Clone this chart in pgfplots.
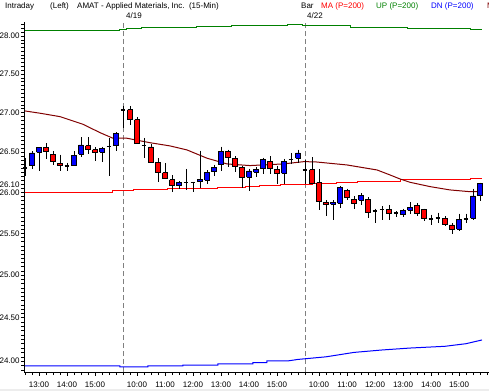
\documentclass[border=0pt]{standalone}
\usepackage{pgfplots}
\pgfplotsset{compat=1.18}
\usepackage{fontspec}
\setmainfont{Liberation Sans}
\definecolor{upblue}{RGB}{0,0,255}
\definecolor{dnred}{RGB}{255,0,0}
\definecolor{darkred}{RGB}{128,0,0}
\definecolor{upgreen}{RGB}{0,128,0}
\begin{document}
\begin{tikzpicture}[x=1bp,y=1bp,font=\fontsize{8bp}{9.6bp}\selectfont]
\begin{axis}[scale only axis,
  width=464.8bp, height=350bp,
  y coord trafo/.code={\pgfmathparse{1000*ln(#1)}},
  y coord inv trafo/.code={\pgfmathparse{exp(#1/1000)}},
  xmin=-0.1, xmax=66.3, ymin=23.878, ymax=28.186,
  clip=false, unbounded coords=jump,
  axis x line*=bottom, axis y line*=left,
  axis line style={-, line width=0.8bp, black},
  tick align=outside, major tick length=3.5bp, minor tick length=3bp,
  every tick/.style={black, line width=0.7bp},
  ticklabel style={font=\fontsize{8bp}{9.6bp}\selectfont},
  ytick={24,24.5,25,25.5,26,26.1,26.5,27,27.5,28},
  yticklabels={24.00,24.50,25.00,25.50,26.00,26.10,26.50,27.00,27.50,28.00},
  minor ytick={23.9,23.95,24,24.05,24.1,24.15,24.2,24.25,24.3,24.35,24.4,24.45,24.5,24.55,24.6,24.65,24.7,24.75,24.8,24.85,24.9,24.95,25,25.05,25.1,25.15,25.2,25.25,25.3,25.35,25.4,25.45,25.5,25.55,25.6,25.65,25.7,25.75,25.8,25.85,25.9,25.95,26,26.05,26.1,26.15,26.2,26.25,26.3,26.35,26.4,26.45,26.5,26.55,26.6,26.65,26.7,26.75,26.8,26.85,26.9,26.95,27,27.05,27.1,27.15,27.2,27.25,27.3,27.35,27.4,27.45,27.5,27.55,27.6,27.65,27.7,27.75,27.8,27.85,27.9,27.95,28,28.05,28.1,28.15},
  yticklabel style={inner sep=1bp},
  xtick={2,6,10,16,20,24,28,32,36,42,46,50,54,58,62},
  xticklabels={13:00,14:00,15:00,10:00,11:00,12:00,13:00,14:00,15:00,10:00,11:00,12:00,13:00,14:00,15:00},
  minor xtick={0,1,...,66},
  xticklabel style={inner sep=0pt, yshift=-6bp},
]
\coordinate (SW) at (rel axis cs:0,0);
% session separators
\addplot[gray, line width=0.9bp, dash pattern=on 5bp off 3bp] coordinates {(14,23.878) (14,28.186)};
\addplot[gray, line width=0.9bp, dash pattern=on 5bp off 3bp] coordinates {(40,23.878) (40,28.186)};
% UP line (green)
\addplot[upgreen, line width=1bp] coordinates {(0,28.066) (2.57,28.066) (2.57,28.076) (3.86,28.076) (3.86,28.066) (13.57,28.066) (13.57,28.089) (14.57,28.089) (14.57,28.102) (16.71,28.102) (16.71,28.116) (24.57,28.116) (24.57,28.129) (29.57,28.129) (29.57,28.142) (37.57,28.142) (37.57,28.156) (39.71,28.156) (39.71,28.146) (44.57,28.146) (44.57,28.133) (46.43,28.133) (46.43,28.116) (54.57,28.116) (54.57,28.097) (63.57,28.097) (63.57,28.089) (65.29,28.089)};
% DN line (blue)
\addplot[upblue, line width=1bp] coordinates {(0,23.946) (13.57,23.946) (13.57,23.935) (17.57,23.935) (17.57,23.946) (22.57,23.946) (22.57,23.957) (27.57,23.957) (27.57,23.969) (32.57,23.969) (32.57,23.984) (34.57,23.984) (34.57,24.003) (37.57,24.003) (39,24.02) (43,24.05) (47,24.10) (51,24.128) (55,24.15) (60,24.17) (63,24.20) (65.29,24.243)};
% MA line (red)
\addplot[dnred, line width=1bp] coordinates {(0,25.996) (12.57,25.996) (12.57,26.021) (15.43,26.021) (15.43,26.033) (20.29,26.033) (20.29,26.041) (27.57,26.041) (27.57,26.054) (31.57,26.054) (31.57,26.070) (33.57,26.070) (33.57,26.082) (36.57,26.082) (36.57,26.091) (41.14,26.091) (41.14,26.112) (44.57,26.112) (44.57,26.124) (47.57,26.124) (47.57,26.137) (53.57,26.137) (53.57,26.153) (63.57,26.153) (63.57,26.165) (65.29,26.165)};
% second MA (dark red)
\addplot[darkred, line width=1bp] coordinates {(0,27.022) (2.14,26.993) (5,26.949) (8.29,26.852) (10.71,26.746) (12.57,26.675) (14.57,26.675) (17.86,26.619) (20.71,26.578) (23.14,26.527) (26,26.423) (28.86,26.352) (32.14,26.331) (36.86,26.352) (39.86,26.381) (41.57,26.377) (46,26.339) (50.29,26.277) (52.14,26.215) (53.57,26.165) (55,26.124) (57.86,26.070) (60.71,26.029) (63.57,26.008) (65.29,26.008)};
% wicks
\addplot[black, line width=1bp] table[row sep=\\] {x y\\
0 26.43\\0 26.20\\nan 26\\
1 26.51\\1 26.29\\nan 26\\
2 26.56\\2 26.26\\nan 26\\
3 26.61\\3 26.415\\nan 26\\
4 26.51\\4 26.34\\nan 26\\
5 26.47\\5 26.26\\nan 26\\
6 26.37\\6 26.26\\nan 26\\
7 26.51\\7 26.33\\nan 26\\
8 26.69\\8 26.44\\nan 26\\
9 26.69\\9 26.48\\nan 26\\
10 26.56\\10 26.39\\nan 26\\
11 26.57\\11 26.38\\nan 26\\
12 26.68\\12 26.20\\nan 26\\
13 26.75\\13 26.51\\nan 26\\
14 27.085\\14 26.80\\nan 26\\
15 27.085\\15 26.84\\nan 26\\
16 26.945\\16 26.605\\nan 26\\
17 26.68\\17 26.42\\nan 26\\
18 26.605\\18 26.365\\nan 26\\
19 26.425\\19 26.13\\nan 26\\
20 26.365\\20 26.16\\nan 26\\
21 26.21\\21 26.005\\nan 26\\
22 26.14\\22 26.045\\nan 26\\
23 26.29\\23 26.025\\nan 26\\
24 26.13\\24 26.005\\nan 26\\
25 26.52\\25 26.055\\nan 26\\
26 26.275\\26 26.105\\nan 26\\
27 26.345\\27 26.20\\nan 26\\
28 26.57\\28 26.26\\nan 26\\
29 26.53\\29 26.31\\nan 26\\
30 26.445\\30 26.255\\nan 26\\
31 26.33\\31 26.055\\nan 26\\
32 26.295\\32 26.02\\nan 26\\
33 26.31\\33 26.19\\nan 26\\
34 26.43\\34 26.225\\nan 26\\
35 26.445\\35 26.225\\nan 26\\
36 26.33\\36 26.105\\nan 26\\
37 26.415\\37 26.10\\nan 26\\
38 26.49\\38 26.35\\nan 26\\
39 26.53\\39 26.36\\nan 26\\
40 26.395\\40 26.105\\nan 26\\
41 26.435\\41 26.105\\nan 26\\
42 26.29\\42 25.78\\nan 26\\
43 25.905\\43 25.71\\nan 26\\
44 25.905\\44 25.655\\nan 26\\
45 26.075\\45 25.81\\nan 26\\
46 26.045\\46 25.90\\nan 26\\
47 25.95\\47 25.80\\nan 26\\
48 25.99\\48 25.845\\nan 26\\
49 25.94\\49 25.685\\nan 26\\
50 25.80\\50 25.63\\nan 26\\
51 25.83\\51 25.655\\nan 26\\
52 25.845\\52 25.655\\nan 26\\
53 25.77\\53 25.695\\nan 26\\
54 25.80\\54 25.695\\nan 26\\
55 25.88\\55 25.73\\nan 26\\
56 25.865\\56 25.715\\nan 26\\
57 25.80\\57 25.645\\nan 26\\
58 25.725\\58 25.60\\nan 26\\
59 25.75\\59 25.63\\nan 26\\
60 25.705\\60 25.585\\nan 26\\
61 25.62\\61 25.485\\nan 26\\
62 25.74\\62 25.525\\nan 26\\
63 25.74\\63 25.62\\nan 26\\
64 26.045\\64 25.66\\nan 26\\
65 26.12\\65 25.895\\nan 26\\
};
% up bodies (blue)
\addplot[draw=black, fill=upblue, line width=0.8bp] table[row sep=\\] {x y\\
0.67 26.33\\1.33 26.33\\1.33 26.49\\0.67 26.49\\0.67 26.33\\nan 26\\
1.67 26.50\\2.33 26.50\\2.33 26.555\\1.67 26.555\\1.67 26.50\\nan 26\\
6.67 26.33\\7.33 26.33\\7.33 26.46\\6.67 26.46\\6.67 26.33\\nan 26\\
7.67 26.475\\8.33 26.475\\8.33 26.59\\7.67 26.59\\7.67 26.475\\nan 26\\
10.67 26.50\\11.33 26.50\\11.33 26.55\\10.67 26.55\\10.67 26.50\\nan 26\\
12.67 26.58\\13.33 26.58\\13.33 26.73\\12.67 26.73\\12.67 26.58\\nan 26\\
21.67 26.08\\22.33 26.08\\22.33 26.12\\21.67 26.12\\21.67 26.08\\nan 26\\
24.67 26.13\\25.33 26.13\\25.33 26.16\\24.67 26.16\\24.67 26.13\\nan 26\\
25.67 26.15\\26.33 26.15\\26.33 26.245\\25.67 26.245\\25.67 26.15\\nan 26\\
26.67 26.255\\27.33 26.255\\27.33 26.31\\26.67 26.31\\26.67 26.255\\nan 26\\
27.67 26.345\\28.33 26.345\\28.33 26.51\\27.67 26.51\\27.67 26.345\\nan 26\\
31.67 26.19\\32.33 26.19\\32.33 26.265\\31.67 26.265\\31.67 26.19\\nan 26\\
32.67 26.25\\33.33 26.25\\33.33 26.285\\32.67 26.285\\32.67 26.25\\nan 26\\
33.67 26.295\\34.33 26.295\\34.33 26.405\\33.67 26.405\\33.67 26.295\\nan 26\\
36.67 26.235\\37.33 26.235\\37.33 26.385\\36.67 26.385\\36.67 26.235\\nan 26\\
38.67 26.425\\39.33 26.425\\39.33 26.49\\38.67 26.49\\38.67 26.425\\nan 26\\
43.67 25.855\\44.33 25.855\\44.33 25.88\\43.67 25.88\\43.67 25.855\\nan 26\\
44.67 25.865\\45.33 25.865\\45.33 26.055\\44.67 26.055\\44.67 25.865\\nan 26\\
47.67 25.905\\48.33 25.905\\48.33 25.965\\47.67 25.965\\47.67 25.905\\nan 26\\
53.67 25.725\\54.33 25.725\\54.33 25.78\\53.67 25.78\\53.67 25.725\\nan 26\\
54.67 25.78\\55.33 25.78\\55.33 25.815\\54.67 25.815\\54.67 25.78\\nan 26\\
61.67 25.55\\62.33 25.55\\62.33 25.665\\61.67 25.665\\61.67 25.55\\nan 26\\
63.67 25.685\\64.33 25.685\\64.33 25.955\\63.67 25.955\\63.67 25.685\\nan 26\\
64.67 25.96\\65.33 25.96\\65.33 26.105\\64.67 26.105\\64.67 25.96\\nan 26\\
};
% down bodies (red)
\addplot[draw=black, fill=dnred, line width=0.8bp] table[row sep=\\] {x y\\
2.67 26.56\\3.33 26.56\\3.33 26.51\\2.67 26.51\\2.67 26.56\\nan 26\\
3.67 26.475\\4.33 26.475\\4.33 26.385\\3.67 26.385\\3.67 26.475\\nan 26\\
4.67 26.36\\5.33 26.36\\5.33 26.335\\4.67 26.335\\4.67 26.36\\nan 26\\
8.67 26.58\\9.33 26.58\\9.33 26.53\\8.67 26.53\\8.67 26.58\\nan 26\\
9.67 26.53\\10.33 26.53\\10.33 26.50\\9.67 26.50\\9.67 26.53\\nan 26\\
14.67 27.04\\15.33 27.04\\15.33 26.91\\14.67 26.91\\14.67 27.04\\nan 26\\
15.67 26.91\\16.33 26.91\\16.33 26.615\\15.67 26.615\\15.67 26.91\\nan 26\\
17.67 26.565\\18.33 26.565\\18.33 26.375\\17.67 26.375\\17.67 26.565\\nan 26\\
18.67 26.375\\19.33 26.375\\19.33 26.245\\18.67 26.245\\18.67 26.375\\nan 26\\
19.67 26.24\\20.33 26.24\\20.33 26.175\\19.67 26.175\\19.67 26.24\\nan 26\\
20.67 26.155\\21.33 26.155\\21.33 26.085\\20.67 26.085\\20.67 26.155\\nan 26\\
28.67 26.51\\29.33 26.51\\29.33 26.44\\28.67 26.44\\28.67 26.51\\nan 26\\
29.67 26.425\\30.33 26.425\\30.33 26.325\\29.67 26.325\\29.67 26.425\\nan 26\\
30.67 26.31\\31.33 26.31\\31.33 26.185\\30.67 26.185\\30.67 26.31\\nan 26\\
34.67 26.385\\35.33 26.385\\35.33 26.295\\34.67 26.295\\34.67 26.385\\nan 26\\
35.67 26.285\\36.33 26.285\\36.33 26.235\\35.67 26.235\\35.67 26.285\\nan 26\\
40.67 26.28\\41.33 26.28\\41.33 26.115\\40.67 26.115\\40.67 26.28\\nan 26\\
41.67 26.12\\42.33 26.12\\42.33 25.885\\41.67 25.885\\41.67 26.12\\nan 26\\
42.67 25.88\\43.33 25.88\\43.33 25.855\\42.67 25.855\\42.67 25.88\\nan 26\\
45.67 26.025\\46.33 26.025\\46.33 25.94\\45.67 25.94\\45.67 26.025\\nan 26\\
46.67 25.915\\47.33 25.915\\47.33 25.865\\46.67 25.865\\46.67 25.915\\nan 26\\
48.67 25.915\\49.33 25.915\\49.33 25.755\\48.67 25.755\\48.67 25.915\\nan 26\\
51.67 25.79\\52.33 25.79\\52.33 25.74\\51.67 25.74\\51.67 25.79\\nan 26\\
55.67 25.84\\56.33 25.84\\56.33 25.745\\55.67 25.745\\55.67 25.84\\nan 26\\
56.67 25.79\\57.33 25.79\\57.33 25.685\\56.67 25.685\\56.67 25.79\\nan 26\\
59.67 25.685\\60.33 25.685\\60.33 25.61\\59.67 25.61\\59.67 25.685\\nan 26\\
60.67 25.60\\61.33 25.60\\61.33 25.545\\60.67 25.545\\60.67 25.60\\nan 26\\
};
% doji (open = close)
\addplot[black, line width=1.6bp] table[row sep=\\] {x y\\
-0.33 26.30\\0.33 26.30\\nan 26\\
5.67 26.33\\6.33 26.33\\nan 26\\
11.67 26.57\\12.33 26.57\\nan 26\\
13.67 27.03\\14.33 27.03\\nan 26\\
16.67 26.585\\17.33 26.585\\nan 26\\
22.67 26.12\\23.33 26.12\\nan 26\\
23.67 26.12\\24.33 26.12\\nan 26\\
37.67 26.405\\38.33 26.405\\nan 26\\
39.67 26.275\\40.33 26.275\\nan 26\\
49.67 25.77\\50.33 25.77\\nan 26\\
50.67 25.79\\51.33 25.79\\nan 26\\
52.67 25.745\\53.33 25.745\\nan 26\\
57.67 25.67\\58.33 25.67\\nan 26\\
58.67 25.685\\59.33 25.685\\nan 26\\
62.67 25.675\\63.33 25.675\\nan 26\\
};
\end{axis}
\begin{scope}[shift={(SW)}, shift={(-24.3,-19)}]
\fill[black!7] (0,0) rectangle (489,1.7);
\node[anchor=base west, inner sep=0] at (5,382.5) {Intraday};
\node[anchor=base west, inner sep=0] at (50,382.5) {(Left)};
\node[anchor=base west, inner sep=0] at (77,382.5) {AMAT - Applied Materials, Inc.\ \ (15-Min)};
\node[anchor=base west, inner sep=0] at (301,382.5) {Bar};
\node[anchor=base west, inner sep=0, text=dnred] at (321,382.5) {MA (P=200)};
\node[anchor=base west, inner sep=0, text=upgreen] at (376,382.5) {UP (P=200)};
\node[anchor=base west, inner sep=0, text=upblue] at (431,382.5) {DN (P=200)};
\node[anchor=base west, inner sep=0, text=darkred] at (487,382.5) {M};
\node[anchor=base west, inner sep=0] at (126,372.5) {4/19};
\node[anchor=base west, inner sep=0] at (307,372.5) {4/22};
\pgfresetboundingbox
\useasboundingbox (0,0) rectangle (489,391);
\end{scope}
\end{tikzpicture}
\end{document}
